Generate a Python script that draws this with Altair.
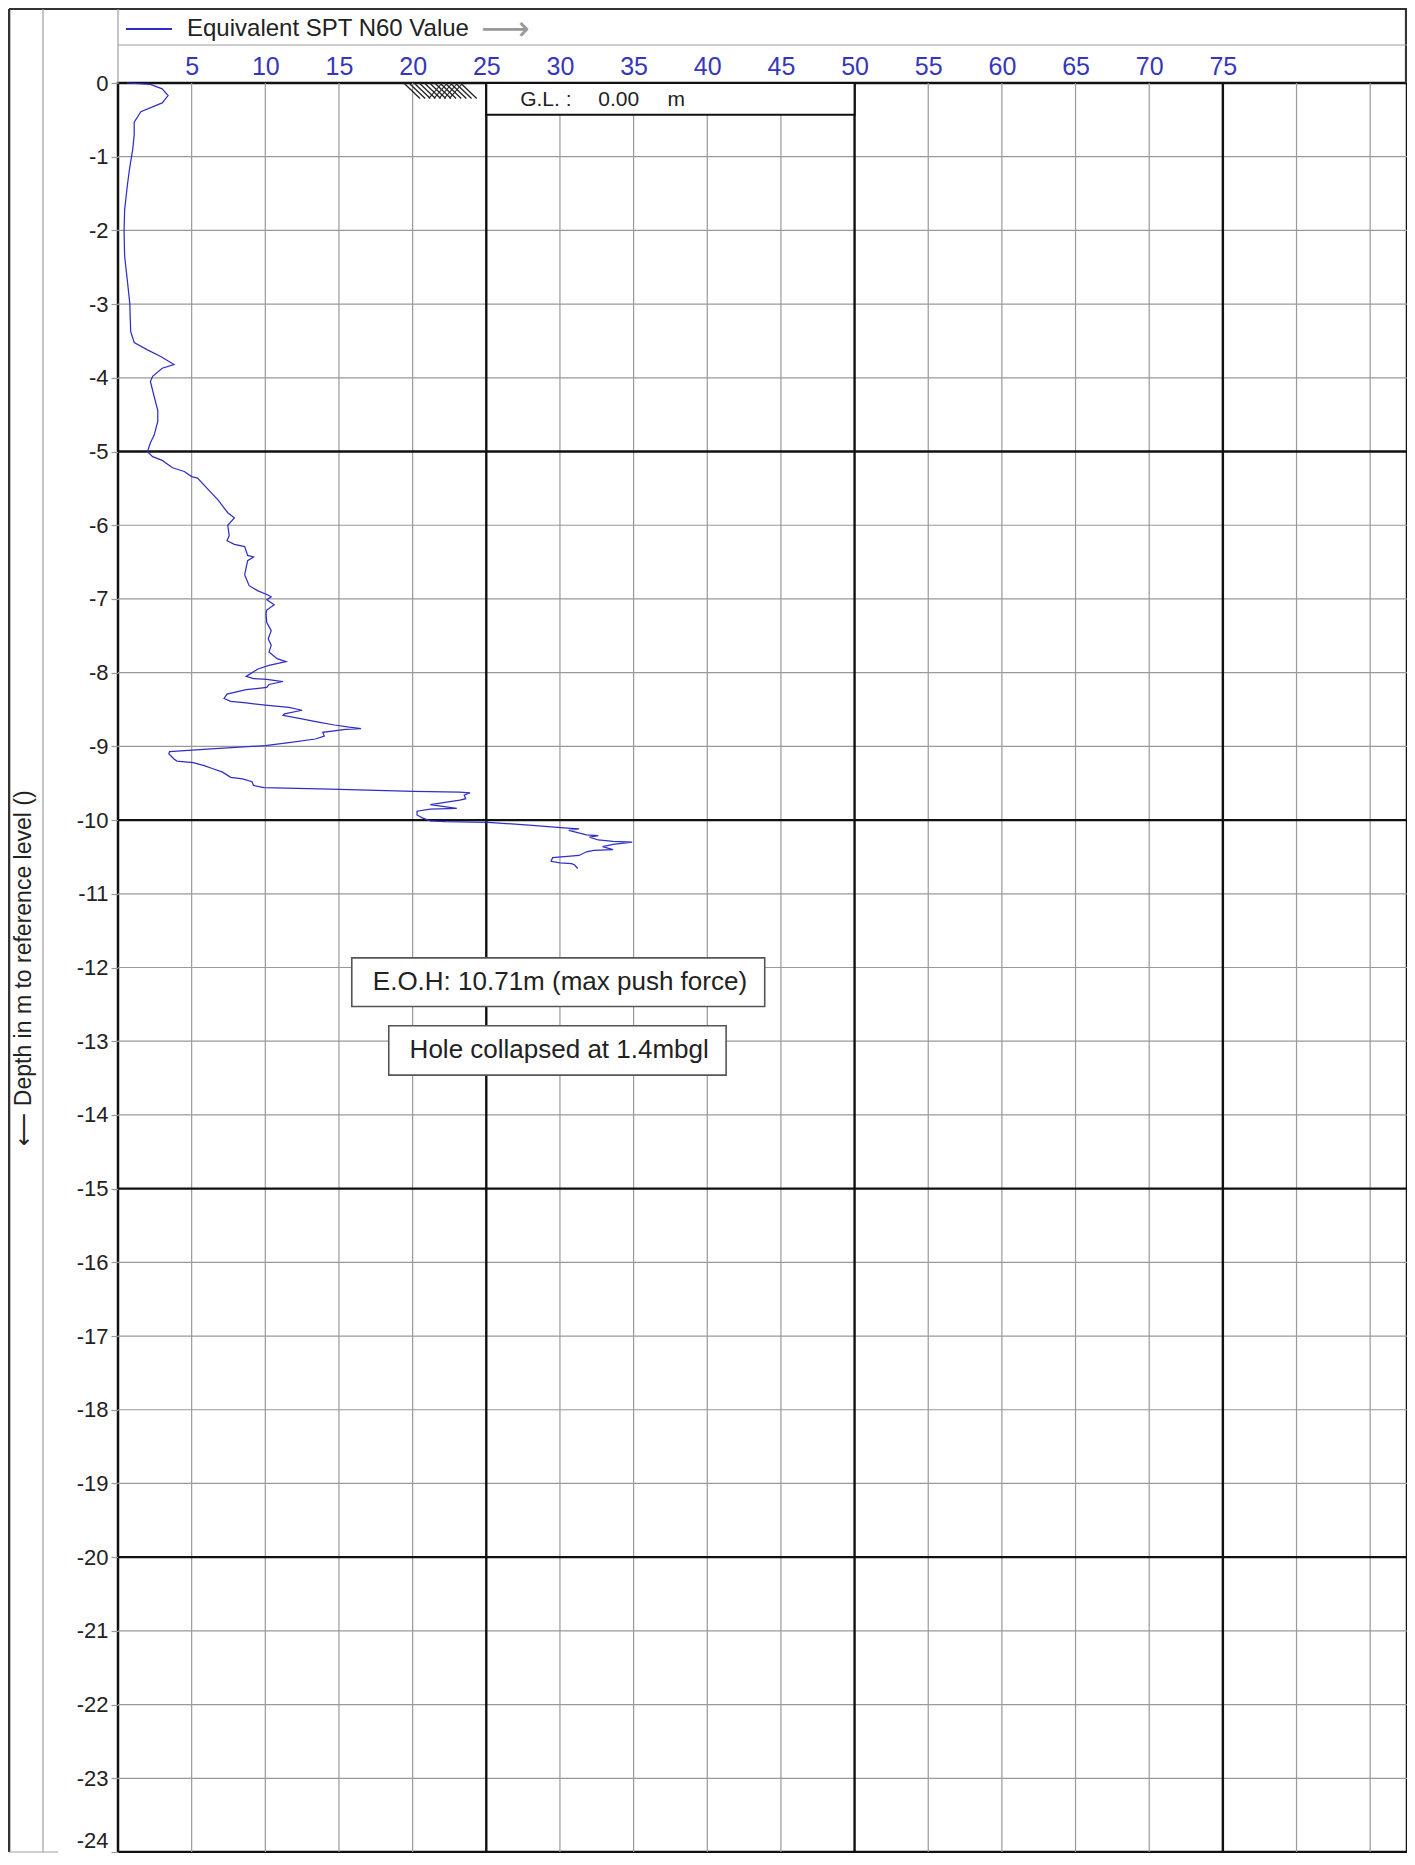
import altair as alt
import pandas as pd

# ---------------- data ----------------
n60 = [0.6, 2.2, 3.0, 3.4, 3.0, 1.55, 1.1, 1.1, 1.0, 0.8, 0.64, 0.45, 0.41, 0.45, 0.64, 0.8,
       0.86, 1.1, 2.0, 2.9, 3.8, 3.0, 2.35, 2.2, 2.45, 2.7, 2.7, 2.45, 2.2, 2.0, 2.35, 3.0,
       3.7, 4.5, 5.0, 5.4, 6.1, 6.8, 7.45, 7.9, 7.45, 7.55, 7.4, 7.9, 8.6, 8.8, 9.2, 8.8,
       8.6, 8.9, 9.5, 10.1, 10.4, 10.1, 10.6, 10.1, 10.05, 10.1, 10.4, 10.2, 10.4, 10.25,
       10.8, 11.4, 10.25, 9.5, 8.7, 9.2, 10.1, 11.2, 10.25, 10.1, 8.7, 7.4, 7.2, 7.65, 8.7,
       10.0, 11.6, 12.5, 11.3, 11.2, 12.3, 13.6, 14.7, 15.7, 16.5, 15.45, 13.9, 14.0, 13.4,
       11.6, 10.0, 6.6, 3.5, 3.45, 3.8, 4.0, 5.1, 5.85, 6.4, 7.1, 7.65, 8.45, 9.1, 9.2, 9.9,
       14.4, 20.1, 23.2, 23.9, 23.5, 23.6, 23.2, 21.2, 23.0, 21.2, 20.3, 20.3, 20.65, 21.2,
       22.2, 25.1, 27.9, 30.5, 31.3, 30.6, 31.8, 32.6, 32.0, 32.6, 33.6, 34.9, 33.6, 32.9,
       33.6, 32.3, 31.8, 31.3, 29.5, 29.4, 30.0, 30.8, 31.0, 31.2]
depth = [0.0, -0.02, -0.08, -0.17, -0.27, -0.39, -0.53, -0.70, -0.90, -1.14, -1.38, -1.72,
         -2.01, -2.35, -2.69, -2.99, -3.37, -3.52, -3.62, -3.71, -3.82, -3.87, -3.98, -4.05,
         -4.25, -4.44, -4.59, -4.78, -4.88, -5.0, -5.07, -5.12, -5.22, -5.27, -5.34, -5.36,
         -5.51, -5.66, -5.83, -5.9, -6.0, -6.14, -6.21, -6.26, -6.29, -6.41, -6.43, -6.48,
         -6.67, -6.82, -6.89, -6.94, -6.97, -7.01, -7.08, -7.15, -7.2, -7.32, -7.43, -7.54,
         -7.63, -7.72, -7.81, -7.85, -7.9, -7.95, -8.05, -8.08, -8.09, -8.12, -8.16, -8.2,
         -8.23, -8.29, -8.35, -8.39, -8.41, -8.44, -8.47, -8.51, -8.56, -8.58, -8.62, -8.67,
         -8.71, -8.74, -8.76, -8.77, -8.81, -8.86, -8.9, -8.95, -8.99, -9.03, -9.07, -9.1,
         -9.17, -9.2, -9.22, -9.26, -9.3, -9.35, -9.42, -9.44, -9.48, -9.53, -9.56, -9.58,
         -9.61, -9.62, -9.63, -9.66, -9.71, -9.73, -9.79, -9.84, -9.85, -9.88, -9.93, -9.97,
         -10.01, -10.02, -10.03, -10.07, -10.11, -10.12, -10.14, -10.2, -10.21, -10.23,
         -10.27, -10.29, -10.3, -10.33, -10.36, -10.4, -10.41, -10.43, -10.48, -10.51,
         -10.56, -10.58, -10.59, -10.61, -10.66]

x_tick_labels = [5, 10, 15, 20, 25, 30, 35, 40, 45, 50, 55, 60, 65, 70, 75]
y_tick_labels = list(range(-24, 1))
x_grid_thin = [5, 10, 15, 20, 30, 35, 40, 45, 55, 60, 65, 70, 80, 85]
x_grid_thick = [25, 50, 75]
y_grid_thin = [d for d in range(-23, 0) if d % 5 != 0]
y_grid_thick = [-5, -10, -15, -20]
hatch_back = [19.4, 19.75, 20.1, 20.45, 20.8, 21.15, 21.5, 21.85, 22.2, 22.55, 22.9, 23.25]
hatch_fwd = [22.0, 22.35, 22.7, 23.05, 23.4]

legend_label = "Equivalent SPT N60 Value"
y_title = "\u27f5  Depth in m to reference level ()"
eoh_text = "E.O.H: 10.71m (max push force)"
hole_text = "Hole collapsed at 1.4mbgl"
gl_parts = ["G.L. :", "0.00", "m"]

# ---------------- layout ----------------
W, H = 1289, 1769
XMAX = 87.5
FONT = "Liberation Sans"
BLUE_TXT = "#3636bc"
BLUE_LINE = "#2f2fc8"
GRID = "#999999"
DARK = "#111111"

xs = alt.Scale(domain=[0, XMAX], nice=False, zero=False)
ys = alt.Scale(domain=[-24, 0], nice=False, zero=False)
AX = alt.Axis(orient="top", values=x_tick_labels, title=None, domain=False, ticks=False, grid=False,
              labelColor=BLUE_TXT, labelFontSize=25, labelFont=FONT, labelPadding=4,
              labelFlush=False, labelOverlap=False, labelExpr="'' + datum.value")
AY = alt.Axis(orient="left", values=y_tick_labels, title=None, domain=False, grid=False, ticks=True,
              tickSize=7, tickColor=GRID, tickWidth=1.2,
              labelColor="#222222", labelFontSize=22, labelFont=FONT, labelPadding=3,
              labelBaseline={"condition": {"test": "datum.value == -24", "value": "bottom"},
                             "value": "middle"},
              labelFlush=False, labelOverlap=False, labelExpr="'' + datum.value")
one = pd.DataFrame({"k": [0]})


def X(f="x"):
    return alt.X(f + ":Q", scale=xs, axis=AX)


def Y(f="y"):
    return alt.Y(f + ":Q", scale=ys, axis=AY)


def prule(x1, y1, x2, y2, color, w):
    return alt.Chart(one).mark_rule(color=color, strokeWidth=w).encode(
        x=alt.value(x1), x2=alt.value(x2), y=alt.value(y1), y2=alt.value(y2))


def ptext(x, y, txt, size, color="#222222", align="left", angle=0, font=FONT):
    return alt.Chart(one).mark_text(
        text=txt, fontSize=size, color=color, align=align, baseline="middle",
        angle=angle, font=font).encode(x=alt.value(x), y=alt.value(y))


# grid
vthin = alt.Chart(pd.DataFrame({"x": x_grid_thin})).mark_rule(color=GRID, strokeWidth=1.2).encode(x=X())
hthin = alt.Chart(pd.DataFrame({"y": y_grid_thin})).mark_rule(color=GRID, strokeWidth=1.2).encode(y=Y())
vthick = alt.Chart(pd.DataFrame({"x": x_grid_thick})).mark_rule(color=DARK, strokeWidth=2.4).encode(x=X())
hthick = alt.Chart(pd.DataFrame({"y": y_grid_thick})).mark_rule(color=DARK, strokeWidth=2.4).encode(y=Y())

# G.L. box and hatch
gl_box = alt.Chart(pd.DataFrame({"x": [25], "x2": [50], "y": [0], "y2": [-0.43]})).mark_rect(
    fill="white", stroke=DARK, strokeWidth=2).encode(x=X(), x2="x2:Q", y=Y(), y2="y2:Q")
gl_txt = alt.Chart(pd.DataFrame({"x": [27.3, 32.6, 37.3], "y": [-0.23] * 3, "t": gl_parts})).mark_text(
    fontSize=21, font=FONT, color="#222222", align="left", baseline="middle").encode(x=X(), y=Y(), text="t:N")

hb = pd.DataFrame({"x": hatch_back})
hb["x2"] = hb["x"] + 1.1
hb["y"] = 0.0
hb["y2"] = -0.21
hf = pd.DataFrame({"x": hatch_fwd})
hf["x2"] = hf["x"] - 0.9
hf["y"] = 0.0
hf["y2"] = -0.21
hatch1 = alt.Chart(hb).mark_rule(color="#222222", strokeWidth=1.3).encode(x=X(), x2="x2:Q", y=Y(), y2="y2:Q")
hatch2 = alt.Chart(hf).mark_rule(color="#222222", strokeWidth=1.1).encode(x=X(), x2="x2:Q", y=Y(), y2="y2:Q")

# annotation boxes
boxes = alt.Chart(pd.DataFrame({"x": [15.87, 18.38], "x2": [43.9, 41.28],
                                "y": [-11.87, -12.79], "y2": [-12.53, -13.46]})).mark_rect(
    fill="white", stroke="#555555", strokeWidth=1.6).encode(x=X(), x2="x2:Q", y=Y(), y2="y2:Q")
box_txt = alt.Chart(pd.DataFrame({"x": [30.0, 29.95], "y": [-12.19, -13.12], "t": [eoh_text, hole_text]})).mark_text(
    fontSize=26, font=FONT, color="#222222", align="center", baseline="middle").encode(x=X(), y=Y(), text="t:N")

# curve
curve_df = pd.DataFrame({"n60": n60, "depth": depth, "i": list(range(len(n60)))})
curve = alt.Chart(curve_df).mark_line(color=BLUE_LINE, strokeWidth=1.25).encode(
    x=X("n60"), y=Y("depth"), order="i:Q")

# frame / header (pixel positions relative to the plot origin)
frame = [
    prule(-109, -74, W, -74, "#333333", 2.2),          # outer top
    prule(-109, -74, -109, H, "#333333", 2.6),          # outer left
    prule(W - 1, -74, W - 1, 0, "#333333", 2.2),        # outer right (header part)
    prule(-75, -74, -75, H, "#a0a0a0", 1.2),            # inner left column line
    prule(0, -74, 0, 0, "#a0a0a0", 1.2),                # header left line
    prule(0, -38, W, -38, "#a0a0a0", 1.2),              # legend separator
    prule(-109, H, -60, H, "#a0a0a0", 1.2),             # bottom of label column
    prule(8, -54, 54, -54, BLUE_LINE, 2.0),             # legend sample
]
texts = [
    ptext(69, -54, legend_label, 24),
    ptext(363, -53, "\u27f6", 34, color="#9a9a9a", font="DejaVu Sans"),
    ptext(-94, 885, y_title, 23, angle=270, align="center"),
]

chart = alt.layer(
    vthin, hthin, vthick, hthick, gl_box, hatch1, hatch2, gl_txt, boxes, box_txt, curve,
    *frame, *texts
).properties(
    width=W, height=H,
    padding={"left": 110, "top": 75, "right": 0, "bottom": 1},
    autosize=alt.AutoSizeParams(type="none"),
    background="white",
).configure_view(stroke=DARK, strokeWidth=2.5)

chart.save("out.html", embed_options={"renderer": "svg", "actions": False})
